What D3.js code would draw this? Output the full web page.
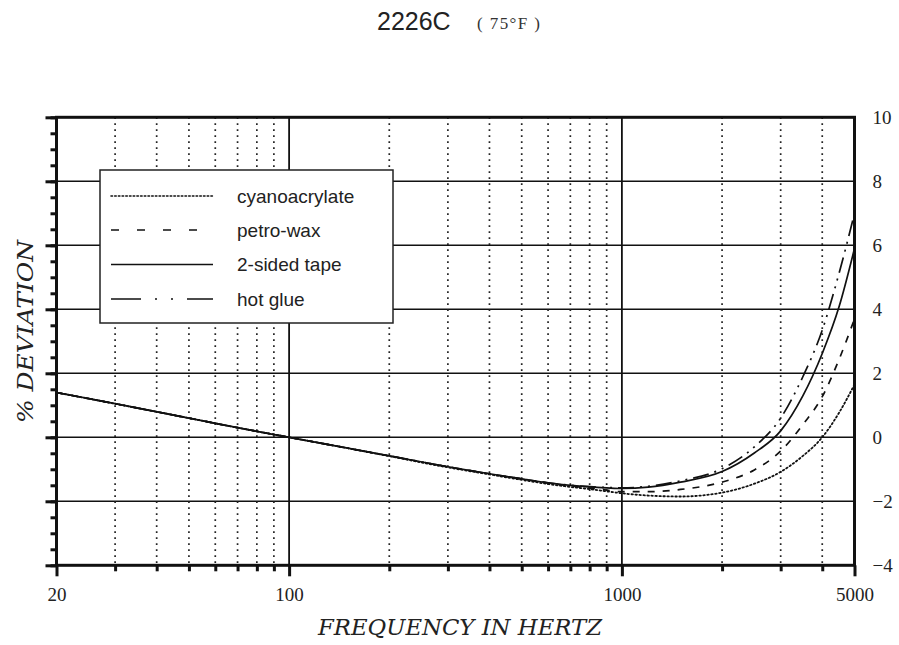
<!DOCTYPE html>
<html>
<head>
<meta charset="utf-8">
<script src="https://cdn.jsdelivr.net/npm/d3@7"></script>
<style>
  html, body { margin: 0; padding: 0; background: #fff; }
  svg { display: block; }
</style>
</head>
<body>
<svg id="chart" width="899" height="645"></svg>
<script>
// ---------------- data ----------------
const titleMain = "2226C";
const titleSub = "( 75°F )";
const xTitle = "FREQUENCY IN HERTZ";
const yTitle = "% DEVIATION";

const freqs = [20, 30, 50, 70, 100, 150, 200, 300, 400, 500, 600, 700, 800, 900, 1000, 1200, 1500, 2000, 2500, 3000, 3500, 4000, 4500, 5000];

const cyanoacrylate = [1.4, 1.05, 0.6, 0.3, 0, -0.34, -0.59, -0.94, -1.16, -1.33, -1.46, -1.55, -1.62, -1.69, -1.75, -1.82, -1.85, -1.73, -1.45, -1.08, -0.58, 0.0, 0.78, 1.65];
const petroWax      = [1.4, 1.05, 0.6, 0.3, 0, -0.34, -0.58, -0.92, -1.14, -1.3, -1.43, -1.52, -1.59, -1.65, -1.7, -1.7, -1.63, -1.4, -1.02, -0.43, 0.4, 1.27, 2.45, 3.7];
const twoSidedTape  = [1.4, 1.05, 0.6, 0.3, 0, -0.34, -0.58, -0.92, -1.14, -1.3, -1.42, -1.5, -1.55, -1.58, -1.6, -1.56, -1.4, -1.07, -0.49, 0.2, 1.3, 2.62, 4.1, 5.9];
const hotGlue       = [1.4, 1.05, 0.6, 0.3, 0, -0.34, -0.58, -0.92, -1.14, -1.3, -1.42, -1.5, -1.54, -1.57, -1.58, -1.53, -1.36, -0.98, -0.3, 0.6, 1.9, 3.35, 5.15, 7.0];

const seriesNames = ["cyanoacrylate", "petro-wax", "2-sided tape", "hot glue"];
const seriesValues = [cyanoacrylate, petroWax, twoSidedTape, hotGlue];
const seriesDash = ["1.5,2.5", "7,8", null, "16,6,2,6,2,6"];
const legendDash = ["1.5,2.2", "8,18", null, "30,14,2,14,2,14"];

const xLabelTicks = [20, 100, 1000, 5000];
const xMajorGrid = [100, 1000];
const xMinorGrid = [30, 40, 50, 60, 70, 80, 90, 200, 300, 400, 500, 600, 700, 800, 900, 2000, 3000, 4000];
const yLabelTicks = [10, 8, 6, 4, 2, 0, -2, -4];
const yMinorTicks = d3.range(-4, 10.01, 0.5);

// ---------------- layout ----------------
const svg = d3.select("#chart");
const serif = "'Liberation Serif', 'DejaVu Serif', serif";
const wideSerif = "'DejaVu Serif', 'Liberation Serif', serif";
const sans = "'Liberation Sans', Arial, sans-serif";

const x = d3.scaleLog().domain([20, 5000]).range([56.5, 854.5]);
const y = d3.scaleLinear().domain([-4, 10]).range([565.3, 117.3]);
const [x0, x1] = x.range();
const [yb, yt] = y.range();

// title
svg.append("text").attr("x", 377).attr("y", 30)
  .attr("font-family", sans).attr("font-size", 25).attr("fill", "#222").text(titleMain);
svg.append("text").attr("x", 477).attr("y", 29)
  .attr("font-family", serif).attr("font-size", 17).attr("fill", "#333")
  .attr("textLength", 63).attr("lengthAdjust", "spacing").text(titleSub);

// grid
const g = svg.append("g");
g.selectAll(".hgrid").data(yLabelTicks).join("line")
  .attr("x1", x0).attr("x2", x1).attr("y1", d => y(d)).attr("y2", d => y(d))
  .attr("stroke", "#111").attr("stroke-width", 1.6);
g.selectAll(".vmin").data(xMinorGrid).join("line")
  .attr("x1", d => x(d)).attr("x2", d => x(d)).attr("y1", yt).attr("y2", yb)
  .attr("stroke", "#222").attr("stroke-width", 1.7).attr("stroke-dasharray", "1.7,4.3");
g.selectAll(".vmaj").data(xMajorGrid).join("line")
  .attr("x1", d => x(d)).attr("x2", d => x(d)).attr("y1", yt).attr("y2", yb)
  .attr("stroke", "#111").attr("stroke-width", 1.8);

// curves
const line = d3.line().x(d => x(d[0])).y(d => y(d[1])).curve(d3.curveMonotoneX);
const cg = svg.append("g");
seriesValues.forEach((vals, i) => {
  cg.append("path")
    .datum(freqs.map((f, j) => [f, vals[j]]))
    .attr("d", line)
    .attr("fill", "none")
    .attr("stroke", "#111")
    .attr("stroke-width", i === 0 ? 1.8 : 1.7)
    .attr("stroke-linecap", i === 0 ? "round" : "butt")
    .attr("stroke-dasharray", seriesDash[i]);
});

// legend
const lg = svg.append("g");
lg.append("rect").attr("x", 100).attr("y", 170).attr("width", 293).attr("height", 153)
  .attr("fill", "#fff").attr("stroke", "#222").attr("stroke-width", 1.5);
const rowY = [196, 230, 264.5, 299];
seriesNames.forEach((name, i) => {
  lg.append("line").attr("x1", 111).attr("x2", 213).attr("y1", rowY[i]).attr("y2", rowY[i])
    .attr("stroke", "#111").attr("stroke-width", 1.6)
    .attr("stroke-linecap", i === 0 ? "round" : "butt")
    .attr("stroke-dasharray", legendDash[i]);
  lg.append("text").attr("x", 237).attr("y", rowY[i]).attr("dy", "0.35em")
    .attr("font-family", sans).attr("font-size", 19).attr("fill", "#222").text(name);
});

// axes ticks
svg.append("g").attr("transform", `translate(${x0},0)`)
  .call(d3.axisLeft(y).tickValues(yMinorTicks).tickSize(6).tickFormat(""))
  .call(s => s.select(".domain").remove())
  .call(s => s.selectAll("line").attr("stroke", "#111").attr("stroke-width", 3));
svg.append("g").attr("transform", `translate(${x0},0)`)
  .call(d3.axisLeft(y).tickValues(yLabelTicks).tickSize(11).tickFormat(""))
  .call(s => s.select(".domain").remove())
  .call(s => s.selectAll("line").attr("stroke", "#111").attr("stroke-width", 3));
svg.append("g").attr("transform", `translate(0,${yb})`)
  .call(d3.axisBottom(x).tickValues(xMinorGrid).tickSize(6).tickFormat(""))
  .call(s => s.select(".domain").remove())
  .call(s => s.selectAll("line").attr("stroke", "#111").attr("stroke-width", 3));
svg.append("g").attr("transform", `translate(0,${yb})`)
  .call(d3.axisBottom(x).tickValues(xLabelTicks).tickSize(11).tickFormat(""))
  .call(s => s.select(".domain").remove())
  .call(s => s.selectAll("line").attr("stroke", "#111").attr("stroke-width", 3));

// frame
svg.append("rect").attr("x", x0).attr("y", yt).attr("width", x1 - x0).attr("height", yb - yt)
  .attr("fill", "none").attr("stroke", "#111").attr("stroke-width", 3);

// tick labels
svg.append("g").attr("transform", `translate(${x1 + 18},0)`)
  .call(d3.axisRight(y).tickValues(yLabelTicks).tickSize(0).tickPadding(0).tickFormat(d3.format("d")))
  .call(s => s.select(".domain").remove())
  .call(s => s.selectAll("text").attr("font-family", serif).attr("font-size", 19).attr("fill", "#222"));
svg.append("g").attr("transform", `translate(0,${yb + 22})`)
  .call(d3.axisBottom(x).tickValues(xLabelTicks).tickSize(0).tickPadding(0).tickFormat(d3.format("d")))
  .call(s => s.select(".domain").remove())
  .call(s => s.selectAll("text").attr("font-family", serif).attr("font-size", 19).attr("fill", "#222"));

// axis titles
svg.append("text").attr("x", 460).attr("y", 635).attr("text-anchor", "middle")
  .attr("font-family", wideSerif).attr("font-style", "italic").attr("font-size", 22).attr("fill", "#222")
  .attr("textLength", 284).attr("lengthAdjust", "spacingAndGlyphs")
  .text(xTitle);
svg.append("text").attr("transform", "translate(33,331.5) rotate(-90)").attr("text-anchor", "middle")
  .attr("font-family", wideSerif).attr("font-style", "italic").attr("font-size", 22).attr("fill", "#222")
  .attr("textLength", 183).attr("lengthAdjust", "spacingAndGlyphs")
  .text(yTitle);
</script>
</body>
</html>
